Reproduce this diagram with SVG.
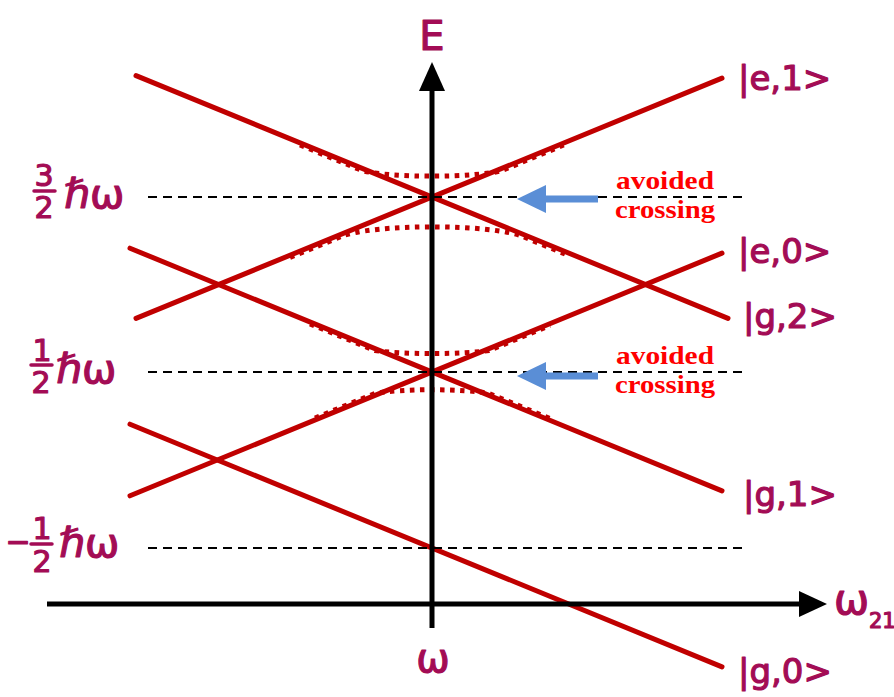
<svg xmlns="http://www.w3.org/2000/svg" width="894" height="697" viewBox="0 0 894 697">
<style>
.lvl{stroke:#c00000;stroke-width:5;fill:none;stroke-linecap:round}
.dot{stroke:#c00000;stroke-width:5;fill:none;stroke-dasharray:4.5 5.5}
.dash{stroke:#000;stroke-width:2;stroke-dasharray:9 6;fill:none}
.axis{stroke:#000;stroke-width:5;fill:none}
.hw{font-family:"DejaVu Sans",sans-serif;fill:#a30c55;stroke:#a30c55;stroke-width:1.2;stroke-linejoin:round}
.ac{font-family:"Liberation Serif",serif;font-weight:bold;font-size:26px;fill:#ff0000;text-anchor:middle}
.bar{stroke:#a30c55;stroke-width:3.5;stroke-linecap:round}
.blue{fill:#5a8ed6}
</style>
<rect width="894" height="697" fill="#fff"/>
<g id="levels">
<line class="lvl" x1="136" y1="318.4" x2="722" y2="78.1"/>
<line class="lvl" x1="136" y1="75.6" x2="728" y2="318.4"/>
<line class="lvl" x1="130" y1="495.8" x2="722" y2="253.1"/>
<line class="lvl" x1="130" y1="248.2" x2="722" y2="490.9"/>
<line class="lvl" x1="130" y1="424.2" x2="722" y2="666.9"/>
</g>
<g id="avoided-curves">
<path class="dot" d="M300,145 L362,170.5 C388,178 476,178 502,170.5 L565,144.5"/>
<path class="dot" d="M290,257.5 L340,237 C370,223.5 494,223.5 524,237 L565,254"/>
<path class="dot" d="M310,324 L375,350.5 C400,354.5 464,354.5 489,350.5 L550,325.5"/>
<path class="dot" d="M315,418 L375,393.5 C400,388.5 464,388.5 489,393.5 L550,418.5"/>
</g>
<g id="dashed">
<line class="dash" x1="148" y1="197" x2="748" y2="197"/>
<line class="dash" x1="148" y1="372" x2="748" y2="372"/>
<line class="dash" x1="148" y1="548" x2="748" y2="548"/>
</g>
<g id="axes">
<line class="axis" x1="47" y1="604" x2="801" y2="604"/>
<polygon points="827,604 799,591 799,617" fill="#000"/>
<line class="axis" x1="432" y1="628" x2="432" y2="89"/>
<polygon points="432,62 419,91 445,91" fill="#000"/>
</g>
<g id="arrows">
<g id="arrow-top">
<rect class="blue" x="543" y="195.5" width="55" height="7"/>
<polygon class="blue" points="517,199 546,185 546,213"/>
</g>
<g id="arrow-bottom">
<rect class="blue" x="543" y="372.5" width="55" height="7"/>
<polygon class="blue" points="517,376 546,362 546,390"/>
</g>
</g>
<g id="avoided-labels">
<text class="ac" x="665" y="189" textLength="98" lengthAdjust="spacingAndGlyphs">avoided</text>
<text class="ac" x="665" y="218" textLength="100" lengthAdjust="spacingAndGlyphs">crossing</text>
<text class="ac" x="665" y="364" textLength="98" lengthAdjust="spacingAndGlyphs">avoided</text>
<text class="ac" x="665" y="393" textLength="100" lengthAdjust="spacingAndGlyphs">crossing</text>
</g>
<g id="axis-labels">
<text class="hw" x="432" y="50" font-size="40" text-anchor="middle">E</text>
<text class="hw" x="433" y="672" font-size="40" text-anchor="middle">ω</text>
<text class="hw" x="834" y="614" font-size="42">ω</text>
<text class="hw" x="869" y="628" font-size="21">21</text>
</g>
<g id="energy-labels">
<text class="hw" x="44" y="186" font-size="30" text-anchor="middle">3</text>
<line class="bar" x1="34" y1="191" x2="55" y2="191"/>
<text class="hw" x="44" y="218" font-size="30" text-anchor="middle">2</text>
<text class="hw" x="64" y="208" font-size="41">ℏω</text>
<text class="hw" x="42" y="361" font-size="30" text-anchor="middle">1</text>
<line class="bar" x1="31" y1="365" x2="52" y2="365"/>
<text class="hw" x="41" y="393" font-size="30" text-anchor="middle">2</text>
<text class="hw" x="56" y="383" font-size="41">ℏω</text>
<text class="hw" x="18" y="552" font-size="30" text-anchor="middle">−</text>
<text class="hw" x="42" y="539" font-size="30" text-anchor="middle">1</text>
<line class="bar" x1="31" y1="544" x2="52" y2="544"/>
<text class="hw" x="42" y="572" font-size="30" text-anchor="middle">2</text>
<text class="hw" x="59" y="557" font-size="41">ℏω</text>
</g>
<g id="state-labels">
<text class="hw" x="738" y="90" font-size="34">|e,1&gt;</text>
<text class="hw" x="738" y="263" font-size="34">|e,0&gt;</text>
<text class="hw" x="743" y="328" font-size="34">|g,2&gt;</text>
<text class="hw" x="743" y="506" font-size="34">|g,1&gt;</text>
<text class="hw" x="738" y="683" font-size="34">|g,0&gt;</text>
</g>
</svg>
